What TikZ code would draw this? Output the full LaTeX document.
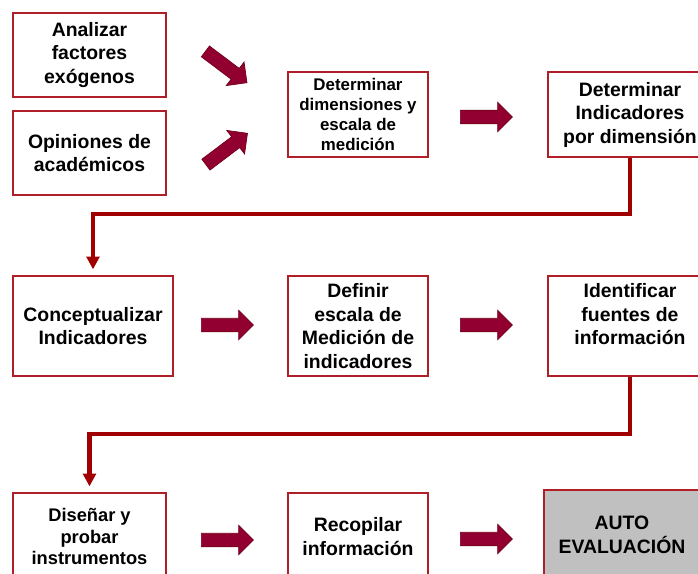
\documentclass[tikz,border=0pt]{standalone}
\usepackage{fontspec}
\setmainfont{Liberation Sans}
\usetikzlibrary{shapes.arrows,arrows.meta}
\definecolor{borde}{RGB}{176,30,40}
\definecolor{vino}{RGB}{145,0,48}
\definecolor{vinoosc}{RGB}{115,0,25}
\definecolor{linea}{RGB}{160,0,0}
\definecolor{gris}{RGB}{192,192,192}
\tikzset{
caja/.style={draw=borde,line width=1.4pt,fill=white,align=center,inner sep=0pt,
  font=\bfseries\fontsize{13.8}{16.7}\selectfont},
flecha/.style={single arrow,draw=vinoosc,fill=vino,line width=0.5pt,inner xsep=0pt,
  inner ysep=0.16cm,minimum height=1.3cm,single arrow head extend=0.2cm,
  single arrow head indent=0pt},
conector/.style={draw=linea,line width=3pt,-{Triangle[width=9pt,length=9pt]},shorten >=4pt}
}
\begin{document}
\begin{tikzpicture}[x=0.025cm,y=-0.025cm]
\clip (0,0) rectangle (698,573);
\fill[white] (0,0) rectangle (698,573);
% fila 1
\node[caja,minimum width=3.825cm,minimum height=2.1cm] (factores) at (89.5,55) {Analizar\\factores\\exógenos};
\node[caja,minimum width=3.825cm,minimum height=2.1cm] (opiniones) at (89.5,153) {Opiniones de\\académicos};
\node[caja,minimum width=3.5cm,minimum height=2.125cm,font=\bfseries\fontsize{12}{14.2}\selectfont] (dimensiones) at (358,114.5) {Determinar\\dimensiones y\\escala de\\medición};
\node[caja,minimum width=4.1cm,minimum height=2.125cm] (indicadores) at (630,114.5) {Determinar\\Indicadores\\por dimensión};
\node[flecha,rotate=-37] (f1) at (223.5,65) {};
\node[flecha,rotate=37] (f2) at (224,151) {};
\node[flecha] (f3) at (483,117) {};
% fila 2
\node[caja,minimum width=4cm,minimum height=2.5cm] (concepto) at (93,326) {Conceptualizar\\Indicadores};
\node[caja,minimum width=3.5cm,minimum height=2.5cm] (escala) at (358,326) {Definir\\escala de\\Medición de\\indicadores};
\node[caja,minimum width=4.1cm,minimum height=2.5cm] (fuentes) at (630,326) {Identificar\\fuentes de\\información\\[-5pt]\strut};
\node[flecha] (f4) at (224,325) {};
\node[flecha] (f5) at (483,325) {};
% fila 3
\node[caja,minimum width=3.825cm,minimum height=2.175cm,font=\bfseries\fontsize{13}{15.6}\selectfont] (disenar) at (89.5,536.5) {Diseñar y\\probar\\instrumentos};
\node[caja,minimum width=3.5cm,minimum height=2.175cm] (recopilar) at (358,536.5) {Recopilar\\información};
\node[caja,fill=gris,minimum width=3.9cm,minimum height=2.25cm] (auto) at (622,535) {AUTO\\EVALUACIÓN};
\node[flecha] (f6) at (224,540) {};
\node[flecha] (f7) at (483,539) {};
% conectores
\draw[conector] (indicadores.south) -- ++(0,56) -| (concepto.north);
\draw[conector] (fuentes.south) -- ++(0,57) -| (disenar.north);
\end{tikzpicture}
\end{document}
